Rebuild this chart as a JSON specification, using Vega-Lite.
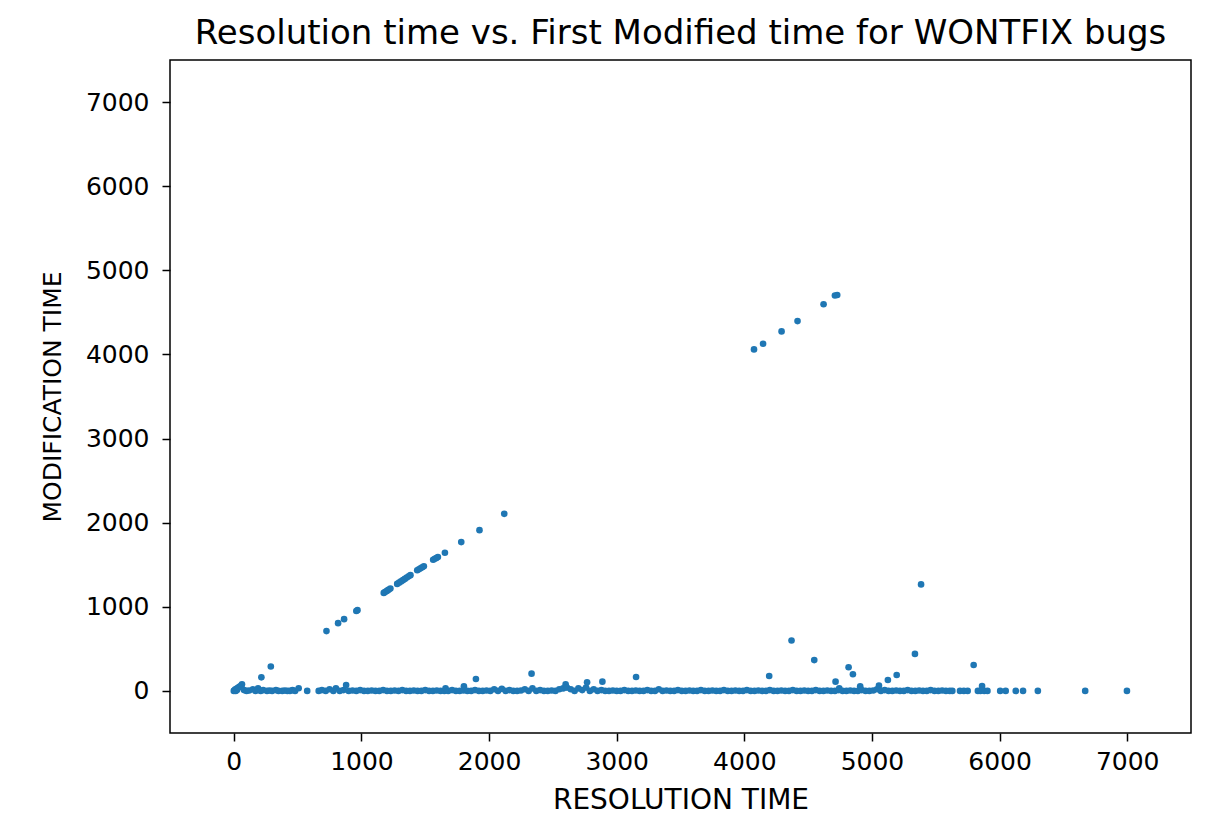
{
  "$schema": "https://vega.github.io/schema/vega-lite/v6.json",
  "width": 1021,
  "height": 673,
  "autosize": {"type": "none"},
  "padding": {"left": 170, "top": 60, "right": 31, "bottom": 93},
  "background": "white",
  "title": {
    "text": "Resolution time vs. First Modified time for WONTFIX bugs",
    "font": "DejaVu Sans",
    "fontSize": 34,
    "fontWeight": "normal",
    "color": "black",
    "anchor": "middle",
    "offset": 9
  },
  "config": {
    "view": {"stroke": "black", "strokeWidth": 1.5},
    "axis": {
      "grid": false,
      "domain": false,
      "tickColor": "black",
      "tickWidth": 1.5,
      "tickSize": 8,
      "labelFont": "DejaVu Sans",
      "labelFontSize": 25,
      "labelColor": "black",
      "titleFont": "DejaVu Sans",
      "titleFontWeight": "normal",
      "titleColor": "black"
    }
  },
  "data": {
    "values": [
      {"res": 0, "mod": 0}, {"res": 5, "mod": 5}, {"res": 10, "mod": 15}, {"res": 15, "mod": 0}, {"res": 20, "mod": 25},
      {"res": 25, "mod": 10}, {"res": 30, "mod": 35}, {"res": 40, "mod": 45}, {"res": 50, "mod": 55}, {"res": 60, "mod": 65},
      {"res": 64, "mod": 79}, {"res": 80, "mod": 10}, {"res": 100, "mod": 0}, {"res": 120, "mod": 5}, {"res": 150, "mod": 20},
      {"res": 170, "mod": 0}, {"res": 190, "mod": 30}, {"res": 210, "mod": 0}, {"res": 230, "mod": 10}, {"res": 260, "mod": 0},
      {"res": 280, "mod": 5}, {"res": 300, "mod": 0}, {"res": 330, "mod": 10}, {"res": 350, "mod": 0}, {"res": 380, "mod": 0},
      {"res": 400, "mod": 5}, {"res": 420, "mod": 0}, {"res": 440, "mod": 0}, {"res": 460, "mod": 10}, {"res": 480, "mod": 0},
      {"res": 508, "mod": 32}, {"res": 575, "mod": 0}, {"res": 665, "mod": 0}, {"res": 690, "mod": 10}, {"res": 720, "mod": 0},
      {"res": 750, "mod": 20}, {"res": 780, "mod": 0}, {"res": 800, "mod": 30}, {"res": 830, "mod": 0}, {"res": 860, "mod": 10},
      {"res": 880, "mod": 71}, {"res": 900, "mod": 0}, {"res": 930, "mod": 5}, {"res": 960, "mod": 0}, {"res": 990, "mod": 10},
      {"res": 1020, "mod": 0}, {"res": 1050, "mod": 0}, {"res": 1080, "mod": 5}, {"res": 1110, "mod": 0}, {"res": 1140, "mod": 0},
      {"res": 1170, "mod": 10}, {"res": 1200, "mod": 0}, {"res": 1230, "mod": 0}, {"res": 1260, "mod": 5}, {"res": 1290, "mod": 0},
      {"res": 1320, "mod": 10}, {"res": 1350, "mod": 0}, {"res": 1380, "mod": 0}, {"res": 1410, "mod": 5}, {"res": 1440, "mod": 0},
      {"res": 1470, "mod": 0}, {"res": 1500, "mod": 10}, {"res": 1530, "mod": 0}, {"res": 1560, "mod": 0}, {"res": 1590, "mod": 5},
      {"res": 1620, "mod": 0}, {"res": 1650, "mod": 0}, {"res": 1659, "mod": 32}, {"res": 1680, "mod": 0}, {"res": 1710, "mod": 10},
      {"res": 1740, "mod": 0}, {"res": 1770, "mod": 0}, {"res": 1800, "mod": 5}, {"res": 1803, "mod": 56}, {"res": 1830, "mod": 0},
      {"res": 1860, "mod": 0}, {"res": 1890, "mod": 10}, {"res": 1920, "mod": 0}, {"res": 1950, "mod": 0}, {"res": 1980, "mod": 5},
      {"res": 2010, "mod": 0}, {"res": 2040, "mod": 20}, {"res": 2070, "mod": 0}, {"res": 2100, "mod": 25}, {"res": 2130, "mod": 0},
      {"res": 2160, "mod": 10}, {"res": 2190, "mod": 0}, {"res": 2220, "mod": 0}, {"res": 2250, "mod": 5}, {"res": 2280, "mod": 20},
      {"res": 2310, "mod": 0}, {"res": 2340, "mod": 30}, {"res": 2370, "mod": 0}, {"res": 2400, "mod": 10}, {"res": 2430, "mod": 0},
      {"res": 2460, "mod": 0}, {"res": 2490, "mod": 5}, {"res": 2520, "mod": 0}, {"res": 2550, "mod": 20}, {"res": 2580, "mod": 30},
      {"res": 2600, "mod": 79}, {"res": 2610, "mod": 40}, {"res": 2640, "mod": 20}, {"res": 2670, "mod": 0}, {"res": 2700, "mod": 30},
      {"res": 2730, "mod": 10}, {"res": 2760, "mod": 40}, {"res": 2790, "mod": 0}, {"res": 2820, "mod": 20}, {"res": 2850, "mod": 0},
      {"res": 2880, "mod": 10}, {"res": 2910, "mod": 0}, {"res": 2940, "mod": 0}, {"res": 2970, "mod": 5}, {"res": 3000, "mod": 0},
      {"res": 3030, "mod": 0}, {"res": 3060, "mod": 10}, {"res": 3090, "mod": 0}, {"res": 3120, "mod": 0}, {"res": 3150, "mod": 5},
      {"res": 3180, "mod": 0}, {"res": 3210, "mod": 0}, {"res": 3240, "mod": 10}, {"res": 3270, "mod": 0}, {"res": 3300, "mod": 0},
      {"res": 3330, "mod": 20}, {"res": 3360, "mod": 0}, {"res": 3390, "mod": 5}, {"res": 3420, "mod": 0}, {"res": 3450, "mod": 0},
      {"res": 3480, "mod": 10}, {"res": 3510, "mod": 0}, {"res": 3540, "mod": 0}, {"res": 3570, "mod": 5}, {"res": 3600, "mod": 0},
      {"res": 3630, "mod": 0}, {"res": 3660, "mod": 10}, {"res": 3690, "mod": 0}, {"res": 3720, "mod": 0}, {"res": 3750, "mod": 5},
      {"res": 3780, "mod": 0}, {"res": 3810, "mod": 0}, {"res": 3840, "mod": 10}, {"res": 3870, "mod": 0}, {"res": 3900, "mod": 0},
      {"res": 3930, "mod": 5}, {"res": 3960, "mod": 0}, {"res": 3990, "mod": 0}, {"res": 4020, "mod": 10}, {"res": 4050, "mod": 0},
      {"res": 4080, "mod": 0}, {"res": 4110, "mod": 5}, {"res": 4140, "mod": 0}, {"res": 4170, "mod": 0}, {"res": 4200, "mod": 10},
      {"res": 4230, "mod": 0}, {"res": 4260, "mod": 0}, {"res": 4290, "mod": 5}, {"res": 4320, "mod": 0}, {"res": 4350, "mod": 0},
      {"res": 4380, "mod": 10}, {"res": 4410, "mod": 0}, {"res": 4440, "mod": 0}, {"res": 4470, "mod": 5}, {"res": 4500, "mod": 0},
      {"res": 4530, "mod": 0}, {"res": 4560, "mod": 10}, {"res": 4590, "mod": 0}, {"res": 4620, "mod": 0}, {"res": 4650, "mod": 5},
      {"res": 4680, "mod": 0}, {"res": 4710, "mod": 0}, {"res": 4740, "mod": 10}, {"res": 4744, "mod": 32}, {"res": 4770, "mod": 0},
      {"res": 4800, "mod": 0}, {"res": 4830, "mod": 5}, {"res": 4860, "mod": 0}, {"res": 4890, "mod": 0}, {"res": 4908, "mod": 56},
      {"res": 4920, "mod": 10}, {"res": 4950, "mod": 0}, {"res": 4980, "mod": 0}, {"res": 5010, "mod": 5}, {"res": 5040, "mod": 20},
      {"res": 5055, "mod": 63}, {"res": 5070, "mod": 0}, {"res": 5100, "mod": 10}, {"res": 5130, "mod": 0}, {"res": 5160, "mod": 0},
      {"res": 5190, "mod": 5}, {"res": 5220, "mod": 0}, {"res": 5250, "mod": 0}, {"res": 5280, "mod": 10}, {"res": 5310, "mod": 0},
      {"res": 5340, "mod": 0}, {"res": 5370, "mod": 5}, {"res": 5400, "mod": 0}, {"res": 5430, "mod": 0}, {"res": 5460, "mod": 10},
      {"res": 5490, "mod": 0}, {"res": 5520, "mod": 0}, {"res": 5550, "mod": 5}, {"res": 5580, "mod": 0}, {"res": 5610, "mod": 0},
      {"res": 5630, "mod": 0}, {"res": 5690, "mod": 0}, {"res": 5720, "mod": 0}, {"res": 5750, "mod": 0}, {"res": 5830, "mod": 0},
      {"res": 5850, "mod": 0}, {"res": 5880, "mod": 0}, {"res": 5905, "mod": 0}, {"res": 6005, "mod": 0}, {"res": 6048, "mod": 0},
      {"res": 6127, "mod": 0}, {"res": 6184, "mod": 0}, {"res": 6300, "mod": 0}, {"res": 6671, "mod": 0}, {"res": 6998, "mod": 0},
      {"res": 216, "mod": 162}, {"res": 290, "mod": 290}, {"res": 1897, "mod": 142}, {"res": 2333, "mod": 205}, {"res": 3152, "mod": 166},
      {"res": 2768, "mod": 103}, {"res": 2888, "mod": 110}, {"res": 4195, "mod": 178}, {"res": 4370, "mod": 600}, {"res": 4548, "mod": 367},
      {"res": 4817, "mod": 281}, {"res": 4851, "mod": 198}, {"res": 4715, "mod": 110}, {"res": 5125, "mod": 130}, {"res": 5194, "mod": 190},
      {"res": 5337, "mod": 440}, {"res": 5385, "mod": 1266}, {"res": 5797, "mod": 308}, {"res": 5863, "mod": 59},
      {"res": 4076, "mod": 4060}, {"res": 4147, "mod": 4127}, {"res": 4292, "mod": 4274}, {"res": 4417, "mod": 4396}, {"res": 4621, "mod": 4597},
      {"res": 4710, "mod": 4700}, {"res": 4728, "mod": 4707},
      {"res": 726, "mod": 711}, {"res": 817, "mod": 806}, {"res": 864, "mod": 853}, {"res": 960, "mod": 950}, {"res": 969, "mod": 960},
      {"res": 1175, "mod": 1165}, {"res": 1185, "mod": 1175}, {"res": 1195, "mod": 1185}, {"res": 1205, "mod": 1195}, {"res": 1215, "mod": 1205},
      {"res": 1227, "mod": 1217}, {"res": 1280, "mod": 1272}, {"res": 1295, "mod": 1287}, {"res": 1310, "mod": 1302}, {"res": 1325, "mod": 1317},
      {"res": 1340, "mod": 1332}, {"res": 1355, "mod": 1347}, {"res": 1370, "mod": 1362}, {"res": 1384, "mod": 1376}, {"res": 1437, "mod": 1434},
      {"res": 1450, "mod": 1446}, {"res": 1463, "mod": 1458}, {"res": 1476, "mod": 1470}, {"res": 1489, "mod": 1481}, {"res": 1562, "mod": 1560},
      {"res": 1575, "mod": 1570}, {"res": 1587, "mod": 1580}, {"res": 1599, "mod": 1591}, {"res": 1654, "mod": 1643}, {"res": 1782, "mod": 1769},
      {"res": 1925, "mod": 1911}, {"res": 2119, "mod": 2105}
    ]
  },
  "mark": {"type": "point", "filled": true, "opacity": 1, "size": 44, "color": "#1f77b4"},
  "encoding": {
    "x": {
      "field": "res", "type": "quantitative", "title": "RESOLUTION TIME",
      "scale": {"domain": [-500, 7500], "nice": false, "zero": false},
      "axis": {"values": [0, 1000, 2000, 3000, 4000, 5000, 6000, 7000], "labelPadding": 8, "titlePadding": 12, "titleFontSize": 28, "format": "d"}
    },
    "y": {
      "field": "mod", "type": "quantitative", "title": "MODIFICATION TIME",
      "scale": {"domain": [-500, 7500], "nice": false, "zero": false},
      "axis": {"values": [0, 1000, 2000, 3000, 4000, 5000, 6000, 7000], "labelPadding": 13, "titlePadding": 20, "titleFontSize": 25, "format": "d"}
    }
  }
}
